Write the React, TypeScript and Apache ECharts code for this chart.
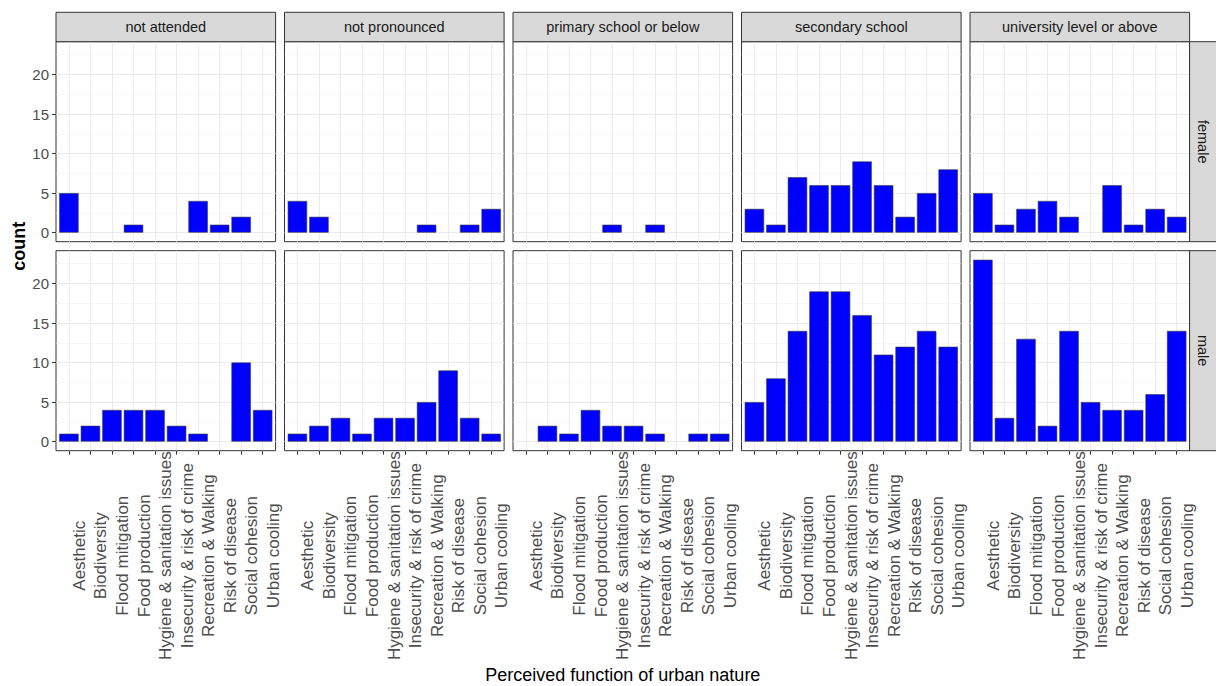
import React, { useEffect, useRef } from 'react';
import * as echarts from 'echarts';

// Perceived functions of urban nature (x categories)
const categories = [
  'Aesthetic',
  'Biodiversity',
  'Flood mitigation',
  'Food production',
  'Hygiene & sanitation issues',
  'Insecurity & risk of crime',
  'Recreation & Walking',
  'Risk of disease',
  'Social cohesion',
  'Urban cooling',
];

// Facet columns (education level) and rows (gender)
const educationLevels = [
  'not attended',
  'not pronounced',
  'primary school or below',
  'secondary school',
  'university level or above',
];
const genders = ['female', 'male'];

// Respondent counts, one value per category
const femaleNotAttended = [5, 0, 0, 1, 0, 0, 4, 1, 2, 0];
const femaleNotPronounced = [4, 2, 0, 0, 0, 0, 1, 0, 1, 3];
const femalePrimary = [0, 0, 0, 0, 1, 0, 1, 0, 0, 0];
const femaleSecondary = [3, 1, 7, 6, 6, 9, 6, 2, 5, 8];
const femaleUniversity = [5, 1, 3, 4, 2, 0, 6, 1, 3, 2];

const maleNotAttended = [1, 2, 4, 4, 4, 2, 1, 0, 10, 4];
const maleNotPronounced = [1, 2, 3, 1, 3, 3, 5, 9, 3, 1];
const malePrimary = [0, 2, 1, 4, 2, 2, 1, 0, 1, 1];
const maleSecondary = [5, 8, 14, 19, 19, 16, 11, 12, 14, 12];
const maleUniversity = [23, 3, 13, 2, 14, 5, 4, 4, 6, 14];

const yTicks = [0, 5, 10, 15, 20];
const yMinorTicks = [2.5, 7.5, 12.5, 17.5, 22.5];

const xTitle = 'Perceived function of urban nature';
const yTitle = 'count';

const countsByGender: number[][][] = [
  [femaleNotAttended, femaleNotPronounced, femalePrimary, femaleSecondary, femaleUniversity],
  [maleNotAttended, maleNotPronounced, malePrimary, maleSecondary, maleUniversity],
];

// Layout (pixels)
const PANEL_LEFT = 56;
const PANEL_W = 219.6;
const PANEL_GAP = 8.9;
const ROW_TOPS = [41.7, 250.7];
const PANEL_H = 200;
const STRIP_TOP = 12.3;
const STRIP_RIGHT_W = 27;

const FONT = '"Liberation Sans", Arial, Helvetica, sans-serif';
const BORDER = '#333333';
const GRID_MAJOR = '#ebebeb';
const GRID_MINOR = '#f3f3f3';
const AXIS_TEXT = '#4d4d4d';

function buildOption() {
  const xValues = categories.map((_, i) => i + 1);
  const xMin = 0.4;
  const xMax = categories.length + 0.6;
  const allCounts = countsByGender.flat(2);
  const maxCount = Math.max(...allCounts);
  const pad = maxCount * 0.05;
  const yMin = -pad;
  const yMax = maxCount + pad;
  const barWidth = (0.9 * PANEL_W) / (xMax - xMin);

  const grid: any[] = [];
  const xAxis: any[] = [];
  const yAxis: any[] = [];
  const series: any[] = [];
  const graphic: any[] = [];

  genders.forEach((gender, r) => {
    educationLevels.forEach((level, c) => {
      const k = r * educationLevels.length + c;
      const left = PANEL_LEFT + c * (PANEL_W + PANEL_GAP);
      const isBottom = r === genders.length - 1;
      const isLeft = c === 0;

      grid.push({
        left,
        top: ROW_TOPS[r],
        width: PANEL_W,
        height: PANEL_H,
        show: true,
        backgroundColor: '#ffffff',
        borderColor: BORDER,
        borderWidth: 1,
        containLabel: false,
      });

      xAxis.push({
        gridIndex: k,
        type: 'value',
        min: xMin,
        max: xMax,
        axisLine: { show: false, onZero: false },
        axisTick: {
          show: isBottom,
          customValues: xValues,
          length: 4,
          lineStyle: { color: BORDER, width: 1 },
        },
        axisLabel: {
          show: isBottom,
          customValues: xValues,
          rotate: 90,
          align: 'center',
          verticalAlign: 'top',
          padding: [2, 0, 0, 0],
          margin: 105,
          fontSize: 17,
          fontFamily: FONT,
          color: AXIS_TEXT,
          formatter: (v: number) => categories[Math.round(v) - 1] ?? '',
        },
        splitLine: { show: true, lineStyle: { color: GRID_MAJOR, width: 1 } },
      });

      // major horizontal grid + tick labels
      yAxis.push({
        gridIndex: k,
        type: 'value',
        min: yMin,
        max: yMax,
        position: 'left',
        axisLine: { show: false, onZero: false },
        axisTick: {
          show: isLeft,
          customValues: yTicks,
          length: 4,
          lineStyle: { color: BORDER, width: 1 },
        },
        axisLabel: {
          show: isLeft,
          customValues: yTicks,
          margin: 7,
          fontSize: 15,
          fontFamily: FONT,
          color: AXIS_TEXT,
        },
        splitLine: { show: true, lineStyle: { color: GRID_MAJOR, width: 1 } },
      });
      // minor horizontal grid
      yAxis.push({
        gridIndex: k,
        type: 'value',
        min: yMin,
        max: yMax,
        position: 'left',
        axisLine: { show: false, onZero: false },
        axisTick: { show: false, customValues: yMinorTicks },
        axisLabel: { show: false, customValues: yMinorTicks },
        splitLine: { show: true, lineStyle: { color: GRID_MINOR, width: 0.6 } },
      });

      const counts = countsByGender[r][c];
      series.push({
        type: 'bar',
        name: `${gender} / ${level}`,
        xAxisIndex: k,
        yAxisIndex: 2 * k,
        barWidth,
        z: 3,
        itemStyle: { color: '#0000ff', borderColor: '#3a3a3a', borderWidth: 0.6 },
        data: counts
          .map((v, i) => [xValues[i], v])
          .filter((d) => d[1] > 0),
      });

      // column strip on top row
      if (r === 0) {
        graphic.push({
          type: 'rect',
          shape: { x: left, y: STRIP_TOP, width: PANEL_W, height: ROW_TOPS[0] - STRIP_TOP },
          style: { fill: '#d9d9d9', stroke: BORDER, lineWidth: 1 },
          z: 10,
        });
        graphic.push({
          type: 'text',
          x: left + PANEL_W / 2,
          y: (STRIP_TOP + ROW_TOPS[0]) / 2,
          style: {
            text: level,
            fontSize: 14.5,
            fontFamily: FONT,
            fill: '#1a1a1a',
            align: 'center',
            verticalAlign: 'middle',
            textAlign: 'center',
            textVerticalAlign: 'middle',
          },
          z: 11,
        });
      }
    });

    // row strip on the right
    const stripLeft = PANEL_LEFT + educationLevels.length * PANEL_W + (educationLevels.length - 1) * PANEL_GAP;
    graphic.push({
      type: 'rect',
      shape: { x: stripLeft, y: ROW_TOPS[r], width: STRIP_RIGHT_W, height: PANEL_H },
      style: { fill: '#d9d9d9', stroke: BORDER, lineWidth: 1 },
      z: 10,
    });
    graphic.push({
      type: 'text',
      x: stripLeft + STRIP_RIGHT_W / 2 - 0.5,
      y: ROW_TOPS[r] + PANEL_H / 2,
      rotation: -Math.PI / 2,
      style: {
        text: gender,
        fontSize: 14.5,
        fontFamily: FONT,
        fill: '#1a1a1a',
        align: 'center',
        verticalAlign: 'middle',
        textAlign: 'center',
        textVerticalAlign: 'middle',
      },
      z: 11,
    });
  });

  const panelsRight = PANEL_LEFT + educationLevels.length * PANEL_W + (educationLevels.length - 1) * PANEL_GAP;
  graphic.push({
    type: 'text',
    x: (PANEL_LEFT + panelsRight) / 2,
    y: 675,
    style: {
      text: xTitle,
      fontSize: 18,
      fontFamily: FONT,
      fill: '#000000',
      align: 'center',
      verticalAlign: 'middle',
      textAlign: 'center',
      textVerticalAlign: 'middle',
    },
    z: 11,
  });
  graphic.push({
    type: 'text',
    x: 19,
    y: (ROW_TOPS[0] + ROW_TOPS[1] + PANEL_H) / 2,
    rotation: Math.PI / 2,
    style: {
      text: yTitle,
      fontSize: 18,
      fontWeight: 'bold',
      fontFamily: FONT,
      fill: '#000000',
      align: 'center',
      verticalAlign: 'middle',
      textAlign: 'center',
      textVerticalAlign: 'middle',
    },
    z: 11,
  });

  return {
    animation: false,
    backgroundColor: '#ffffff',
    textStyle: { fontFamily: FONT },
    grid,
    xAxis,
    yAxis,
    series,
    graphic,
  };
}

export default function App() {
  const ref = useRef<HTMLDivElement>(null);

  useEffect(() => {
    if (!ref.current) return;
    const chart = echarts.init(ref.current, undefined, { renderer: 'svg' });
    chart.setOption(buildOption() as any);
    return () => chart.dispose();
  }, []);

  return (
    <div
      ref={ref}
      style={{ position: 'absolute', left: 0, top: 0, width: 1216, height: 686 }}
    />
  );
}
